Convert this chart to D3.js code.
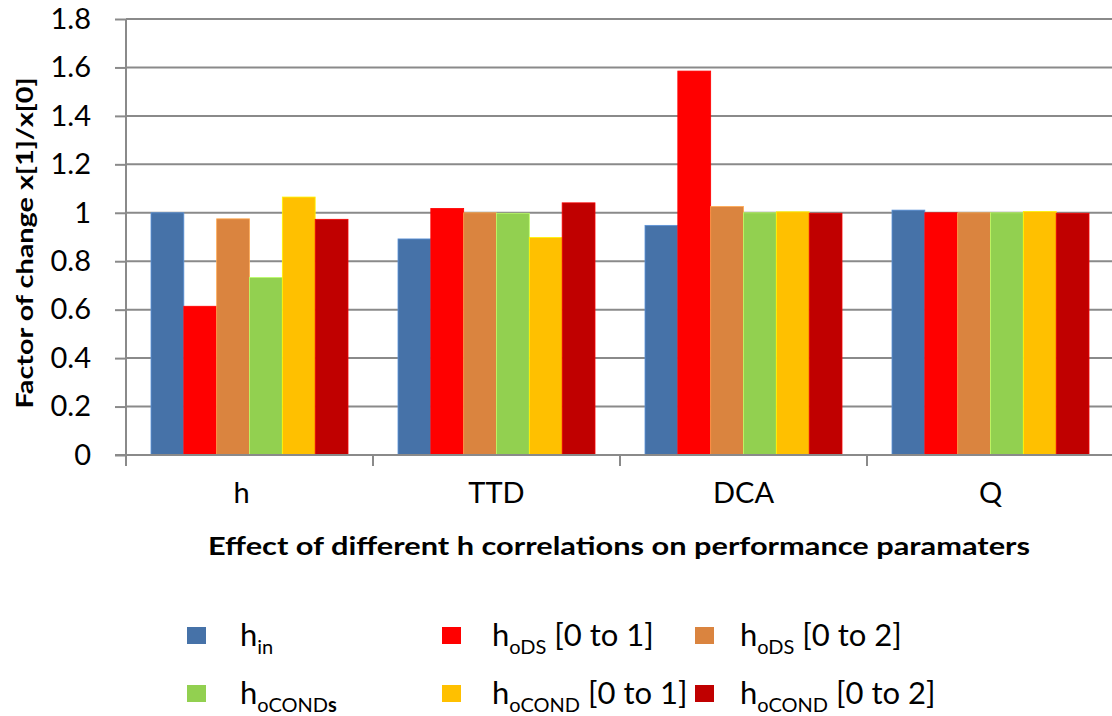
<!DOCTYPE html>
<html>
<head>
<meta charset="utf-8">
<script src="https://cdn.jsdelivr.net/npm/d3@7"></script>
<style>
  html, body { margin: 0; padding: 0; background: #fff; }
  svg { display: block; }
  text { font-family: Lato, "Open Sans", sans-serif; fill: #000; }
</style>
</head>
<body>
<svg id="chart" width="1112" height="716"></svg>
<script>
// ---------- data ----------
const categories = ["h", "TTD", "DCA", "Q"];
const seriesKeys = ["hin", "hoDS1", "hoDS2", "hoCONDs", "hoCOND1", "hoCOND2"];
const hin     = [1.000, 0.892, 0.948, 1.011];
const hoDS1   = [0.614, 1.018, 1.585, 1.000];
const hoDS2   = [0.975, 1.000, 1.026, 1.000];
const hoCONDs = [0.733, 0.998, 1.000, 1.000];
const hoCOND1 = [1.065, 0.898, 1.004, 1.005];
const hoCOND2 = [0.973, 1.041, 0.998, 0.998];
const seriesColors = ["#4672A8", "#FF0000", "#DA843F", "#92D050", "#FFC000", "#C00000"];
const legendMain = ["h", "h", "h", "h", "h", "h"];
const legendSub = ["in", "oDS", "oDS", "oCOND", "oCOND", "oCOND"];
const legendSubTail = ["", "", "", "s", "", ""];
const legendSuffix = ["", " [0 to 1]", " [0 to 2]", "", " [0 to 1]", " [0 to 2]"];
const yTickValues = [0, 0.2, 0.4, 0.6, 0.8, 1.0, 1.2, 1.4, 1.6, 1.8];
const yTickLabels = ["0", "0.2", "0.4", "0.6", "0.8", "1", "1.2", "1.4", "1.6", "1.8"];
const yTitle = "Factor of change x[1]/x[0]";
const xTitle = "Effect of different h correlations on performance paramaters";

const seriesValues = [hin, hoDS1, hoDS2, hoCONDs, hoCOND1, hoCOND2];
const table = categories.map((c, i) => {
  const row = { category: c };
  seriesKeys.forEach((k, j) => row[k] = seriesValues[j][i]);
  return row;
});

// ---------- layout ----------
const svg = d3.select("#chart");
const plot = { left: 126, right: 1114, top: 19, bottom: 455 };
const gridColor = "#8a8a8a";

const x0 = d3.scaleBand().domain(categories).range([plot.left, plot.right]).padding(0);
const outer = 25;
const x1 = d3.scaleBand().domain(seriesKeys)
  .range([outer, x0.bandwidth() - outer]).padding(0);
const y = d3.scaleLinear().domain([0, 1.8]).range([plot.bottom, plot.top]);
const color = d3.scaleOrdinal().domain(seriesKeys).range(seriesColors);

// gridlines
svg.append("g")
  .selectAll("line")
  .data(yTickValues.filter(v => v > 0))
  .join("line")
  .attr("x1", plot.left).attr("x2", 1112)
  .attr("y1", d => y(d)).attr("y2", d => y(d))
  .attr("stroke", gridColor).attr("stroke-width", 2);

// bars
svg.append("g")
  .selectAll("g")
  .data(table)
  .join("g")
  .attr("transform", d => `translate(${x0(d.category)},0)`)
  .selectAll("rect")
  .data(d => seriesKeys.map(k => ({ key: k, value: d[k] })))
  .join("rect")
  .attr("x", d => x1(d.key))
  .attr("width", x1.bandwidth())
  .attr("y", d => y(d.value))
  .attr("height", d => y(0) - y(d.value))
  .attr("fill", d => color(d.key))
  .attr("stroke", d => d3.color(color(d.key)).brighter(0.7))
  .attr("stroke-width", 0.8);

// y axis
const yAxis = d3.axisLeft(y)
  .tickValues(yTickValues)
  .tickFormat((d, i) => yTickLabels[i])
  .tickSize(11)
  .tickPadding(24);
const gy = svg.append("g").attr("transform", `translate(${plot.left},0)`).call(yAxis);
gy.select(".domain").attr("stroke", gridColor).attr("stroke-width", 2)
  .attr("d", `M0,${plot.top}V${plot.bottom}`);
gy.selectAll(".tick line").attr("stroke", gridColor).attr("stroke-width", 2);
gy.selectAll(".tick text")
  .style("font-family", "Lato, sans-serif")
  .style("font-size", "29px")
  .attr("fill", "#000");

// x axis
const xAxis = d3.axisBottom(x0).tickSize(0).tickPadding(27);
const gx = svg.append("g").attr("transform", `translate(0,${plot.bottom})`).call(xAxis);
gx.select(".domain").attr("stroke", gridColor).attr("stroke-width", 2)
  .attr("d", `M${plot.left - 11},0H1112`);
gx.selectAll(".tick text")
  .style("font-family", "Lato, sans-serif")
  .style("font-size", "29px")
  .attr("fill", "#000")
  .attr("dx", (d, i) => i === 0 ? -8 : 0);
// category boundary ticks
svg.append("g")
  .selectAll("line")
  .data(categories)
  .join("line")
  .attr("x1", d => x0(d)).attr("x2", d => x0(d))
  .attr("y1", plot.bottom).attr("y2", plot.bottom + 11)
  .attr("stroke", gridColor).attr("stroke-width", 2);

// axis titles
svg.append("text")
  .attr("transform", `translate(33,243) rotate(-90)`)
  .attr("text-anchor", "middle")
  .style("font-weight", "bold")
  .style("font-size", "23px")
  .attr("textLength", 331)
  .attr("lengthAdjust", "spacingAndGlyphs")
  .text(yTitle);

svg.append("text")
  .attr("x", 619).attr("y", 555)
  .attr("text-anchor", "middle")
  .style("font-weight", "bold")
  .style("font-size", "25px")
  .attr("textLength", 822)
  .attr("lengthAdjust", "spacingAndGlyphs")
  .text(xTitle);

// legend
const legendMarkerX = [187, 442, 695];
const legendTextX = [240, 492, 740];
const legendRowY = [627, 685];
const lg = svg.append("g");
seriesKeys.forEach((k, i) => {
  const col = i % 3, row = Math.floor(i / 3);
  lg.append("rect")
    .attr("x", legendMarkerX[col]).attr("y", legendRowY[row])
    .attr("width", 19).attr("height", 17)
    .attr("fill", seriesColors[i]);
  const t = lg.append("text")
    .attr("x", legendTextX[col]).attr("y", legendRowY[row] + 19)
    .style("font-size", "31px")
    .attr("xml:space", "preserve");
  t.append("tspan").text(legendMain[i]);
  t.append("tspan").attr("dy", 8).style("font-size", "20px").text(legendSub[i]);
  if (legendSubTail[i]) {
    t.append("tspan").style("font-size", "20px").style("font-weight", "bold").text(legendSubTail[i]);
  }
  if (legendSuffix[i]) {
    t.append("tspan").attr("dy", -8).text(legendSuffix[i]);
  }
});
</script>
</body>
</html>
